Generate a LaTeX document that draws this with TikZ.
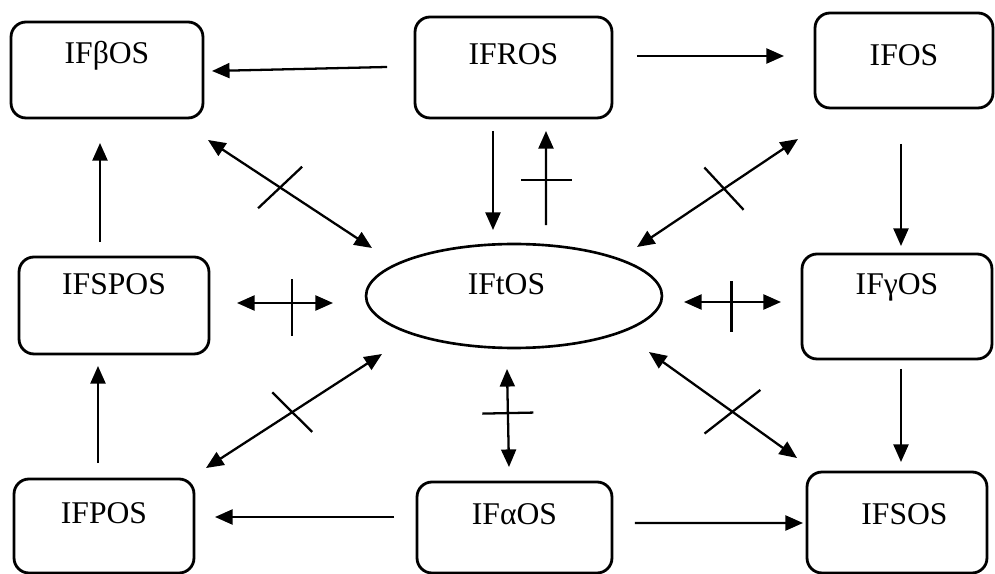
\documentclass[tikz,border=0pt]{standalone}
\usepackage{fontspec}
\setmainfont{Liberation Serif}
\usetikzlibrary{arrows.meta,shapes.geometric,decorations.markings}

\tikzset{
  box/.style={draw, line width=1.6pt, rounded corners=0.3cm, inner sep=0pt, outer sep=0pt,
    font=\fontsize{18}{20}\selectfont, text height=13pt, text depth=20pt},
  oval/.style={ellipse, draw, line width=1.5pt, inner sep=0pt, outer sep=0pt,
    font=\fontsize{18}{20}\selectfont, text height=13pt, text depth=14.6pt},
  conn/.style={line width=1.3pt, -{Triangle[length=10pt,width=8.5pt]}},
  dconn/.style={line width=1.3pt, {Triangle[length=10pt,width=8.5pt]}-{Triangle[length=10pt,width=8.5pt]}},
  crossed/.style args={#1/#2/#3}{postaction={decorate, decoration={markings,
    mark=at position #1 with {\draw[-, line width=1.3pt] (#2) -- (#3);}}}}
}

\begin{document}
\begin{tikzpicture}[x=0.02cm, y=-0.02cm]
      \useasboundingbox (0,0) rectangle (995,574);

      % boxes
      \node[box, minimum width=3.84cm, minimum height=1.92cm, text depth=20.3pt] (bbeta) at (107,70) {IFβOS};
      \node[box, minimum width=3.94cm, minimum height=2.02cm, text depth=16.3pt] (bros) at (513.5,67.5) {IFROS};
      \node[box, minimum width=3.56cm, minimum height=1.9cm, text depth=7.2pt] (bos) at (904,60.5) {IFOS};
      \node[box, minimum width=3.8cm, minimum height=1.94cm, text depth=25.4pt] (bspos) at (114,305.5) {IFSPOS};
      \node[oval, minimum width=5.92cm, minimum height=2.08cm] (tos) at (514,296) {IFtOS\hspace*{0.3cm}};
      \node[box, minimum width=3.8cm, minimum height=2.1cm, text depth=26.5pt] (bgamma) at (897,306.5) {IFγOS};
      \node[box, minimum width=3.6cm, minimum height=1.88cm, text depth=15.7pt] (bpos) at (104,526) {IFPOS};
      \node[box, minimum width=3.9cm, minimum height=1.82cm, text depth=16.3pt] (balpha) at (514.5,527.5) {IFαOS};
      \node[box, minimum width=3.6cm, minimum height=2.02cm, text depth=10.6pt] (bsos) at (897,522.5) {\hspace*{0.3cm}IFSOS};

      % one way arrows
      \draw[conn] ([shift={(-28,-0.5)}]bros.west) -- ([shift={(9,1)}]bbeta.east);
      \draw[conn] ([shift={(25,-11.5)}]bros.east) -- ([shift={(-31,-4.5)}]bos.west);
      \draw[conn] ([shift={(-20.5,13)}]bros.south) -- ([shift={(-21,-14)}]tos.north);
      \draw[conn, crossed={.48/{0,-0.52cm}/{0,0.5cm}}] ([shift={(32,-19)}]tos.north) -- ([shift={(32.5,13)}]bros.south);
      \draw[conn] ([shift={(-3,36)}]bos.south) -- ([shift={(4,-8)}]bgamma.north);
      \draw[conn] ([shift={(-14,-15)}]bspos.north) -- ([shift={(-7,25)}]bbeta.south);
      \draw[conn] ([shift={(-6,-16)}]bpos.north) -- ([shift={(-16,12)}]bspos.south);
      \draw[conn] ([shift={(-23,-10.5)}]balpha.west) -- ([shift={(21,-9)}]bpos.east);
      \draw[conn] ([shift={(23,-4.5)}]balpha.east) -- ([shift={(-4,0.5)}]bsos.west);
      \draw[conn] ([shift={(4,10)}]bgamma.south) -- ([shift={(4,-10)}]bsos.north);

      % two way arrows, crossed
      \draw[dconn, crossed={.44/{-0.14cm,-0.59cm}/{0.14cm,0.59cm}}] ([shift={(5,22)}]bbeta.south east) -- ([shift={(-142,-48)}]tos.center);
      \draw[dconn, crossed={.46/{0.09cm,-0.57cm}/{-0.09cm,0.57cm}}] ([shift={(-17,31)}]bos.south west) -- ([shift={(123,-49)}]tos.center);
      \draw[dconn, crossed={.57/{0,-0.66cm}/{0,0.48cm}}] ([shift={(28,-2.5)}]bspos.east) -- ([shift={(-33,7)}]tos.west);
      \draw[dconn, crossed={.49/{0,-0.6cm}/{0,0.42cm}}] ([shift={(22,6)}]tos.east) -- ([shift={(-21,-4.5)}]bgamma.west);
      \draw[dconn, crossed={.49/{0.12cm,-0.55cm}/{-0.12cm,0.55cm}}] ([shift={(12,-11)}]bpos.north east) -- ([shift={(-132,58)}]tos.center);
      \draw[dconn, crossed={.565/{-0.2cm,-0.68cm}/{0.2cm,0.68cm}}] ([shift={(135,56)}]tos.center) -- ([shift={(-10,-14)}]bsos.north west);
      \draw[dconn, crossed={.45/{0,-0.51cm}/{0,0.51cm}}] ([shift={(-7,21)}]tos.south) -- ([shift={(-5.5,-15)}]balpha.north);

\end{tikzpicture}
\end{document}
